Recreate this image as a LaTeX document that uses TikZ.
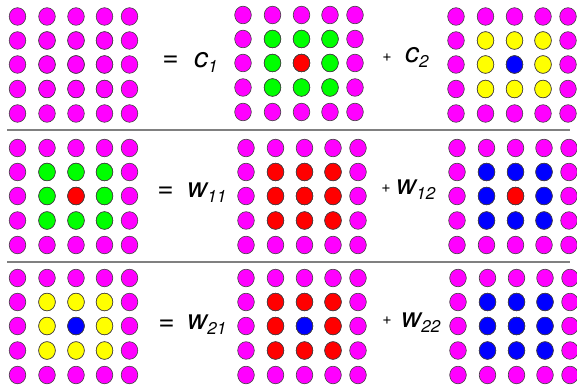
\documentclass[tikz,border=0pt]{standalone}
\usepackage{fontspec}
\setmainfont{TeX Gyre Heros}
\definecolor{PtoMagenta}{HTML}{FF00FF}
\definecolor{PtoVerde}{HTML}{00FF00}
\definecolor{PtoRojo}{HTML}{FF0000}
\definecolor{PtoAzul}{HTML}{0000FF}
\definecolor{PtoAmarillo}{HTML}{FFFF00}
\definecolor{LineaGris}{HTML}{808080}

% rejilla de 5x5 puntos: x0, y0, color interior, color central
\newcommand{\rejilla}[4]{%
  \foreach \dx in {0,29.5,58.5,87,112}
    \foreach \dy in {0,24,48,72.5,97}
      \draw[punto, fill=PtoMagenta] ({#1+\dx},{#2+\dy}) ellipse [x radius=8.3, y radius=8.8];
  \foreach \dx in {29.5,58.5,87}
    \foreach \dy in {24,48,72.5}
      \draw[punto, fill=#3] ({#1+\dx},{#2+\dy}) ellipse [x radius=8.3, y radius=8.8];
  \draw[punto, fill=#4] ({#1+58.5},{#2+48}) ellipse [x radius=8.3, y radius=8.8];
}
\newcommand{\coef}[2]{\itshape #1\raisebox{-5pt}{\fontsize{17}{17}\selectfont #2}}

\begin{document}
\begin{tikzpicture}[
      x=1pt, y=-1pt,
      punto/.style={draw=black!75, line width=0.6pt},
      igual/.style={anchor=base, inner sep=0pt, font=\fontsize{28}{28}\selectfont},
      mas/.style={anchor=base, inner sep=0pt, font=\fontsize{16}{16}\selectfont},
      coefnodo/.style={anchor=base west, inner sep=0pt, font=\fontsize{28}{28}\selectfont},
      separador/.style={draw=LineaGris, line width=1.6pt},
    ]
    \useasboundingbox (0,0) rectangle (577,387);

    \rejilla{17.5}{16.5}{PtoMagenta}{PtoMagenta}
    \rejilla{243}{15}{PtoVerde}{PtoRojo}
    \rejilla{456}{16.5}{PtoAmarillo}{PtoAzul}

    \rejilla{17.5}{148}{PtoVerde}{PtoRojo}
    \rejilla{246}{148}{PtoRojo}{PtoRojo}
    \rejilla{457}{148}{PtoAzul}{PtoRojo}

    \rejilla{17.5}{278}{PtoAmarillo}{PtoAzul}
    \rejilla{246}{278}{PtoRojo}{PtoAzul}
    \rejilla{458}{278}{PtoAzul}{PtoAzul}

    \node[igual]    (igual1) at (170.5,66.5) {=};
    \node[coefnodo] (c1)     at (194,68)     {\coef{c}{1}};
    \node[mas]      (mas1)   at (387,61.5)   {+};
    \node[coefnodo] (c2)     at (405,63)     {\coef{c}{2}};

    \node[igual]    (igual2) at (165.5,197.5) {=};
    \node[coefnodo] (w11)    at (187,197)     {\coef{w}{11}};
    \node[mas]      (mas2)   at (386,192.5)   {+};
    \node[coefnodo] (w12)    at (396,195)     {\coef{w}{12}};

    \node[igual]    (igual3) at (166.5,330.5) {=};
    \node[coefnodo] (w21)    at (187,329)     {\coef{w}{21}};
    \node[mas]      (mas3)   at (387,324.5)   {+};
    \node[coefnodo] (w22)    at (401,327)     {\coef{w}{22}};

    \draw[separador] (7,130) -- (570,130);
    \draw[separador] (7,262) -- (570,262);

  \end{tikzpicture}
\end{document}
